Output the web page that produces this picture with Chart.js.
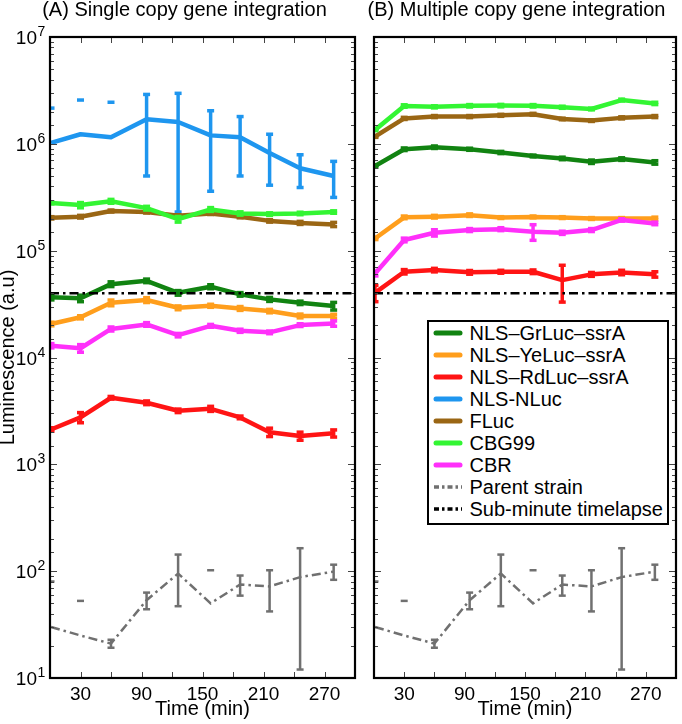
<!DOCTYPE html>
<html><head><meta charset="utf-8">
<script src="https://cdn.jsdelivr.net/npm/chart.js@4.4.1/dist/chart.umd.min.js"></script>
<style>
html,body{margin:0;padding:0;background:#fff;width:682px;height:724px;overflow:hidden;font-family:"Liberation Sans",Arial,sans-serif;}
#wrap{position:relative;width:682px;height:724px;}
#cA{position:absolute;left:0;top:0;}
#cB{position:absolute;left:360px;top:0;}
#legend{position:absolute;left:427px;top:320px;width:238px;height:201px;border:2.5px solid #000;background:#fff;padding:0 0 0 0;}
#legend .row{height:22px;display:flex;align-items:center;white-space:nowrap;}
#legend svg{margin-left:4px;margin-right:6.5px;flex:none;}
#legend span{font-size:20px;line-height:22px;color:#000;}
</style></head>
<body><div id="wrap">
<canvas id="cA" width="360" height="724"></canvas>
<canvas id="cB" width="322" height="724"></canvas>
<div id="legend"></div>
</div>
<script>
// ---------- data ----------
const times = [1, 30, 60, 95, 126, 158, 187, 216, 246, 279];
const xTickLabels = [30, 90, 150, 210, 270];
const panelTitles = ['(A) Single copy gene integration', '(B) Multiple copy gene integration'];
const seriesNames = ['NLS\u2013GrLuc\u2013ssrA', 'NLS\u2013YeLuc\u2013ssrA', 'NLS\u2013RdLuc\u2013ssrA', 'NLS-NLuc', 'FLuc', 'CBG99', 'CBR', 'Parent strain', 'Sub-minute timelapse'];

// Panel A (single copy)
const grA  = [3.66e4, 3.58e4, 4.86e4, 5.22e4, 4.03e4, 4.6e4, 3.9e4, 3.5e4, 3.25e4, 3.03e4];
const grAerr = [2.0e3, 2.5e3, 2.5e3, 2.0e3, 2.0e3, 2.0e3, 1.5e3, 1.5e3, 1.2e3, 2.5e3];
const yeA  = [2.06e4, 2.38e4, 3.25e4, 3.45e4, 2.92e4, 3.05e4, 2.88e4, 2.72e4, 2.45e4, 2.44e4];
const yeAerr = [8e2, 8e2, 2.0e3, 1.8e3, 1.2e3, 1.0e3, 1.2e3, 1.0e3, 1.0e3, 1.0e3];
const rdA  = [2.12e3, 2.75e3, 4.2e3, 3.77e3, 3.17e3, 3.31e3, 2.75e3, 2.0e3, 1.84e3, 1.95e3];
const rdAerr = [80, 300, 120, 150, 120, 180, 80, 180, 160, 150];
const nlA  = [1.02e6, 1.23e6, 1.15e6, 1.70e6, 1.60e6, 1.20e6, 1.15e6, 8.2e5, 5.9e5, 5.0e5];
const nlAerr = [1.14e6, 1.34e6, 1.30e6, 1.2e6, 1.37e6, 8.4e5, 6.5e5, 4.1e5, 2.0e5, 1.85e5];
const flA  = [2.03e5, 2.08e5, 2.35e5, 2.3e5, 2.12e5, 2.23e5, 2.08e5, 1.9e5, 1.82e5, 1.76e5];
const flAerr = [5e3, 6e3, 5e3, 5e3, 5e3, 5e3, 5e3, 5e3, 6e3, 8e3];
const cbgA = [2.8e5, 2.67e5, 2.9e5, 2.5e5, 1.97e5, 2.43e5, 2.23e5, 2.2e5, 2.23e5, 2.3e5];
const cbgAerr = [6e3, 1.5e4, 1.2e4, 1e4, 1.2e4, 1e4, 8e3, 6e3, 6e3, 6e3];
const cbrA = [1.29e4, 1.22e4, 1.85e4, 2.04e4, 1.62e4, 1.98e4, 1.78e4, 1.72e4, 2.01e4, 2.08e4];
const cbrAerr = [6e2, 1.0e3, 8e2, 8e2, 6e2, 6e2, 6e2, 5e2, 6e2, 1.2e3];

// Panel B (multiple copy)
const grB  = [6.2e5, 8.9e5, 9.3e5, 8.9e5, 8.3e5, 7.7e5, 7.3e5, 6.8e5, 7.2e5, 6.7e5];
const grBerr = [1.5e4, 2.5e4, 2.5e4, 2e4, 2e4, 1.5e4, 2e4, 2.5e4, 2e4, 2.5e4];
const yeB  = [1.3e5, 2.05e5, 2.08e5, 2.15e5, 2.04e5, 2.07e5, 2.04e5, 2.0e5, 2.0e5, 2.0e5];
const yeBerr = [3e3, 6e3, 6e3, 6e3, 4e3, 4e3, 4e3, 4e3, 4e3, 6e3];
const rdB  = [4.03e4, 6.35e4, 6.58e4, 6.27e4, 6.35e4, 6.35e4, 5.3e4, 6.0e4, 6.25e4, 6.0e4];
const rdBerr = [7e3, 3e3, 2.5e3, 2.5e3, 2e3, 2.5e3, 2.0e4, 2.5e3, 3e3, 3.5e3];
const flB  = [1.17e6, 1.73e6, 1.8e6, 1.8e6, 1.85e6, 1.89e6, 1.71e6, 1.65e6, 1.75e6, 1.8e6];
const flBerr = [2e4, 4e4, 4e4, 4e4, 4e4, 4e4, 3e4, 3e4, 4e4, 4e4];
const cbgB = [1.35e6, 2.26e6, 2.22e6, 2.27e6, 2.28e6, 2.27e6, 2.2e6, 2.12e6, 2.57e6, 2.39e6];
const cbgBerr = [2e4, 6e4, 5e4, 6e4, 6e4, 6e4, 5e4, 4e4, 5e4, 6e4];
const cbrB = [6.1e4, 1.26e5, 1.47e5, 1.56e5, 1.59e5, 1.5e5, 1.47e5, 1.56e5, 1.94e5, 1.8e5];
const cbrBerr = [3e3, 5e3, 1e4, 5e3, 5e3, 2.5e4, 5e3, 5e3, 5e3, 5e3];

// Parent strain (same in both panels)
const parent = [30, 25, 21, 53.5, 95, 50, 75, 72, 88, 99];
const parentErr = [50, 27.7, 1.8, 9.5, 48, 52, 16, 30, 76, 16];

// Sub-minute timelapse level
const subMinuteLevel = 4e4;
const xRange = [0, 300];
const yRange = [10, 1e7];

// ---------- styles ----------
const colors = ['#118311', '#ff9e1c', '#ff1414', '#1e96ef', '#9a6614', '#33f533', '#ff30fa', '#707070', '#000000'];
const FONT = '"Liberation Sans", Arial, sans-serif';
Chart.defaults.font.family = FONT;

function pts(ys) { return times.map((t, i) => ({x: t, y: ys[i]})); }

function coloredDs(idx, ys, errs) {
  return {label: seriesNames[idx], data: pts(ys), err: errs, borderColor: colors[idx], backgroundColor: colors[idx],
    borderWidth: 4.5, pointRadius: 0, tension: 0, borderJoinStyle: 'round', clip: 0,
    errW: 3.5, capHalf: 3.5, capW: 3.5};
}
function parentDs() {
  return {label: seriesNames[7], data: pts(parent), err: parentErr, borderColor: colors[7], backgroundColor: colors[7],
    borderWidth: 2.5, borderDash: [9, 4, 2.5, 4], pointRadius: 0, tension: 0, clip: 0,
    errW: 2.5, capHalf: 3.5, capW: 2.5};
}
function subDs() {
  return {label: seriesNames[8], data: xRange.map(x => ({x, y: subMinuteLevel})), borderColor: colors[8],
    borderWidth: 2.5, borderDash: [9, 4, 2.5, 4], pointRadius: 0, clip: 0};
}

const dsA = [coloredDs(0, grA, grAerr), coloredDs(1, yeA, yeAerr), coloredDs(2, rdA, rdAerr), coloredDs(3, nlA, nlAerr),
  coloredDs(4, flA, flAerr), coloredDs(5, cbgA, cbgAerr), coloredDs(6, cbrA, cbrAerr), parentDs(), subDs()];
const dsB = [coloredDs(0, grB, grBerr), coloredDs(1, yeB, yeBerr), coloredDs(2, rdB, rdBerr),
  coloredDs(4, flB, flBerr), coloredDs(5, cbgB, cbgBerr), coloredDs(6, cbrB, cbrBerr), parentDs(), subDs()];
[dsA, dsB].forEach(arr => arr.forEach((d, i) => d.order = arr.length - i));

// ---------- plugins ----------
const errorBars = {
  id: 'errorBars',
  afterDatasetDraw(chart, args) {
    const ds = chart.data.datasets[args.index];
    if (!ds.err) return;
    const {ctx, chartArea: a, scales: {x, y}} = chart;
    ctx.save();
    ctx.beginPath(); ctx.rect(a.left, a.top, a.width, a.height); ctx.clip();
    ctx.strokeStyle = ds.borderColor; ctx.lineCap = 'butt';
    ds.data.forEach((p, i) => {
      const e = ds.err[i]; if (!e) return;
      const px = x.getPixelForValue(p.x);
      const hi = y.getPixelForValue(p.y + e);
      const lo = p.y - e;
      if (lo > 0) {
        const pl = y.getPixelForValue(lo);
        ctx.lineWidth = ds.errW;
        ctx.beginPath(); ctx.moveTo(px, pl); ctx.lineTo(px, hi); ctx.stroke();
        ctx.lineWidth = ds.capW;
        ctx.beginPath(); ctx.moveTo(px - ds.capHalf, pl); ctx.lineTo(px + ds.capHalf, pl); ctx.stroke();
      }
      ctx.lineWidth = ds.capW;
      ctx.beginPath(); ctx.moveTo(px - ds.capHalf, hi); ctx.lineTo(px + ds.capHalf, hi); ctx.stroke();
    });
    ctx.restore();
  }
};

const frame = {
  id: 'frame',
  afterDraw(chart, args, opts) {
    const {ctx, chartArea: a, scales: {x, y}} = chart;
    ctx.save();
    ctx.strokeStyle = '#444'; ctx.lineWidth = 1;
    const seg = (x1, y1, x2, y2) => { ctx.beginPath(); ctx.moveTo(x1, y1); ctx.lineTo(x2, y2); ctx.stroke(); };
    y.ticks.forEach(t => {
      const py = Math.round(y.getPixelForValue(t.value)) + 0.5;
      if (py < a.top || py > a.bottom) return;
      const lg = Math.log10(t.value);
      const major = Math.abs(lg - Math.round(lg)) < 1e-9;
      const len = major ? 7 : 4;
      seg(a.left, py, a.left + len, py); seg(a.right, py, a.right - len, py);
    });
    x.ticks.forEach(t => {
      const px = Math.round(x.getPixelForValue(t.value)) + 0.5;
      if (px <= a.left + 1 || px >= a.right - 1) return;
      seg(px, a.bottom, px, a.bottom - 6); seg(px, a.top, px, a.top + 6);
    });
    ctx.strokeStyle = '#000'; ctx.lineWidth = 2.2;
    ctx.strokeRect(a.left, a.top, a.width, a.height);
    // y tick labels with superscript exponents
    if (opts.yLabels) {
      ctx.fillStyle = '#000';
      y.ticks.forEach(t => {
        const lg = Math.log10(t.value);
        if (Math.abs(lg - Math.round(lg)) > 1e-9) return;
        const py = y.getPixelForValue(t.value);
        ctx.font = '19px ' + FONT; ctx.textAlign = 'right'; ctx.textBaseline = 'alphabetic';
        ctx.fillText('10', 37, py + 7);
        ctx.font = '14px ' + FONT; ctx.textAlign = 'left';
        ctx.fillText(String(Math.round(lg)), 37.5, py - 1);
      });
    }
    // panel title
    ctx.fillStyle = '#000'; ctx.font = '20px ' + FONT; ctx.textAlign = 'center'; ctx.textBaseline = 'alphabetic';
    ctx.fillText(opts.title, opts.titleX, 16);
    ctx.restore();
  }
};

function makeChart(id, datasets, cfg) {
  return new Chart(document.getElementById(id), {
    type: 'line',
    data: {datasets},
    options: {
      responsive: false, animation: false, events: [],
      layout: {padding: {top: 37, right: cfg.padRight, bottom: 0, left: 0}},
      plugins: {legend: {display: false}, tooltip: {enabled: false}, title: {display: false},
        frame: {title: cfg.title, titleX: cfg.titleX, yLabels: cfg.yLabels}},
      scales: {
        x: {type: 'linear', min: xRange[0], max: xRange[1],
          grid: {display: false, drawTicks: false}, border: {display: false},
          ticks: {stepSize: 30, autoSkip: false, maxRotation: 0, padding: 5, color: '#000', font: {size: 19},
            callback: v => xTickLabels.includes(v) ? String(v) : ''},
          title: {display: true, text: 'Time (min)', color: '#000', font: {size: 20, lineHeight: 1.0}, padding: {top: 0, bottom: 5}},
          afterFit: s => { s.height = 46; }},
        y: {type: 'logarithmic', min: yRange[0], max: yRange[1],
          grid: {display: false, drawTicks: false}, border: {display: false},
          ticks: {autoSkip: false, display: false},
          title: {display: cfg.yLabels, text: 'Luminescence (a.u)', color: '#000', font: {size: 20, lineHeight: 0.85}, padding: {top: 0, bottom: 0}},
          afterFit: s => { s.width = cfg.yWidth; }}
      }
    },
    plugins: [errorBars, frame]
  });
}

makeChart('cA', dsA, {padRight: 3, yWidth: 50, title: panelTitles[0], titleX: 184.5, yLabels: true});
makeChart('cB', dsB, {padRight: 6, yWidth: 14, title: panelTitles[1], titleX: 156.5, yLabels: false});

// ---------- legend (HTML) ----------
const legendStyles = seriesNames.map((n, i) => i < 7 ? {w: 5, dash: '', cap: 'round'} : {w: 3.5, dash: '5 3 2.5 3', cap: 'butt'});
document.getElementById('legend').innerHTML = seriesNames.map((n, i) =>
  `<div class="row"><svg width="30" height="10"><line x1="${legendStyles[i].cap==='round'?3:1}" y1="5" x2="${legendStyles[i].cap==='round'?27:29}" y2="5" stroke="${colors[i]}" stroke-width="${legendStyles[i].w}" stroke-linecap="${legendStyles[i].cap}" ${legendStyles[i].dash ? `stroke-dasharray="${legendStyles[i].dash}"` : ''}/></svg><span>${n}</span></div>`
).join('');
</script>
</body></html>
